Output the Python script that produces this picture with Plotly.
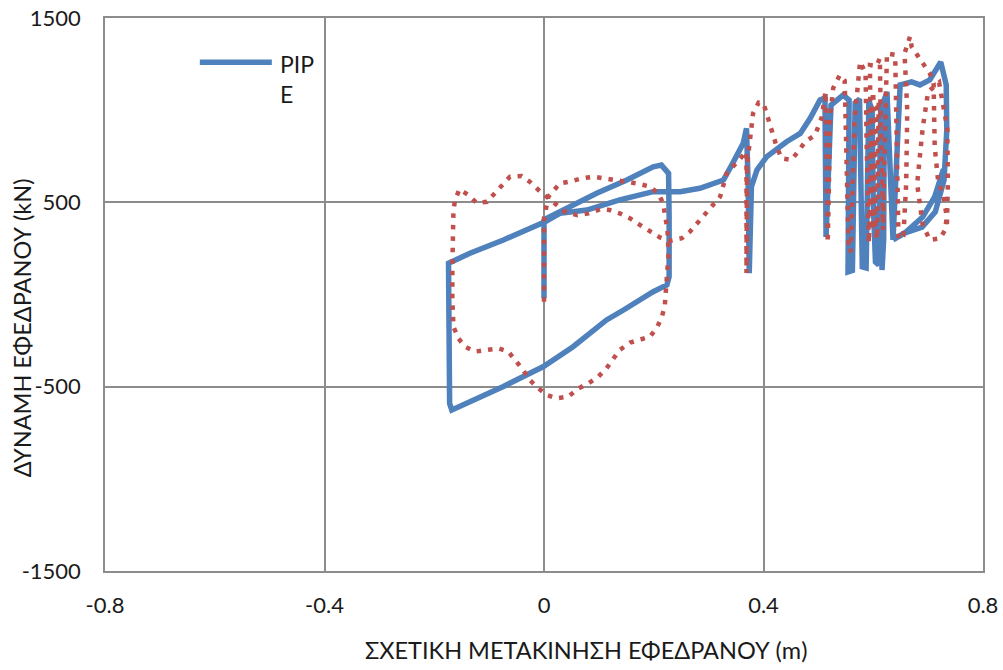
import plotly.graph_objects as go

# ---- data (relative displacement m, bearing force kN) ----
pipe_x = [0.000, 0.000, 0.005, 0.047, 0.096, 0.151, 0.199, 0.214, 0.227, 0.228, 0.228, 0.224,
          0.199, 0.145, 0.114, 0.053, -0.001, -0.074, -0.153, -0.168, -0.172, -0.174, -0.174,
          -0.135, -0.074, 0.002, 0.029, 0.078, 0.138, 0.199, 0.248, 0.284, 0.327, 0.344, 0.363,
          0.369, 0.372, 0.374, 0.376, 0.378, 0.388, 0.406, 0.442, 0.467, 0.485, 0.503, 0.512,
          0.514, 0.523, 0.545, 0.556, 0.554, 0.562, 0.565, 0.567, 0.575, 0.578, 0.580, 0.587,
          0.590, 0.592, 0.598, 0.600, 0.604, 0.610, 0.612, 0.614, 0.616, 0.619, 0.620, 0.625,
          0.636, 0.649, 0.670, 0.685, 0.703, 0.723, 0.733, 0.734, 0.729, 0.713, 0.689, 0.658,
          0.636, 0.660, 0.690, 0.712, 0.728]
pipe_y = [-20, 400, 413, 476, 549, 621, 693, 702, 657, 422, 97, 52,
          15, -84, -138, -283, -391, -499, -600, -627, -591, -120, 169,
          224, 296, 395, 440, 458, 513, 558, 558, 576, 621, 713, 820,
          902, 600, 115, 400, 585, 675, 748, 829, 874, 956, 1055, 1066,
          312, 1028, 1082, 1055, 122, 130, 700, 1040, 1060, 600, 150, 144,
          600, 1050, 1001, 500, 176, 160, 700, 1050, 133, 300, 1055, 1099,
          296, 1137, 1153, 1137, 1164, 1261, 1137, 892, 621, 448, 366, 334,
          296, 340, 420, 531, 680]

ref_x = [0.000, 0.000, 0.008, 0.029, 0.047, 0.069, 0.090, 0.111, 0.132, 0.169, 0.193, 0.208,
         0.217, 0.222, 0.225, 0.227, 0.224, 0.220, 0.214, 0.205, 0.193, 0.175, 0.157, 0.138,
         0.126, 0.114, 0.099, 0.081, 0.063, 0.044, 0.023, 0.005, -0.010, -0.026, -0.038, -0.050,
         -0.065, -0.083, -0.104, -0.126, -0.144, -0.156, -0.165, -0.167, -0.167, -0.167, -0.165,
         -0.162, -0.154, -0.138, -0.123, -0.104, -0.089, -0.077, -0.062, -0.041, -0.026, -0.010,
         0.005, 0.020, 0.038, 0.060, 0.081, 0.102, 0.120, 0.138, 0.157, 0.175, 0.193, 0.211,
         0.230, 0.251, 0.266, 0.281, 0.296, 0.321, 0.333, 0.357, 0.369, 0.369, 0.370, 0.381,
         0.391, 0.400, 0.412, 0.424, 0.433, 0.451, 0.463, 0.476,
         0.494, 0.506, 0.513, 0.515, 0.516, 0.517, 0.519, 0.521, 0.527, 0.539, 0.548, 0.551,
         0.553, 0.555, 0.559, 0.562, 0.566, 0.576, 0.586, 0.588, 0.590, 0.592, 0.595, 0.597,
         0.600, 0.602, 0.604, 0.607, 0.609, 0.610, 0.606, 0.603, 0.600, 0.596, 0.594, 0.594,
         0.606, 0.612, 0.614, 0.616, 0.618, 0.620, 0.622, 0.625, 0.640, 0.642, 0.644, 0.646,
         0.655, 0.660, 0.662, 0.657, 0.667, 0.670, 0.680, 0.694, 0.703, 0.710, 0.710, 0.712,
         0.718, 0.728, 0.734, 0.731, 0.722, 0.703, 0.690, 0.680, 0.690, 0.700, 0.720, 0.735,
         0.736, 0.734]
ref_y = [-39, 413, 531, 603, 612, 630, 639, 630, 621, 603, 585, 549,
         495, 422, 350, 223, 61, -66, -129, -183, -229, -247, -261, -301,
         -355, -400, -446, -482, -509, -554, -563, -545, -509, -464, -410, -365,
         -310, -292, -301, -310, -283, -238, -175, -30, 151, 332, 458,
         513, 571, 540, 498, 503, 549, 594, 639, 643, 612, 567,
         531, 495, 449, 431, 440, 462, 458, 440, 413, 377, 341, 310,
         292, 305, 341, 395, 440, 531, 657, 730, 775, 117, 700, 983,
         1041, 1037, 910, 802, 739, 730, 775, 829,
         865, 960, 1100, 750, 400, 280, 550, 950, 1120, 1191, 1160, 850,
         500, 250, 230, 550, 950, 1263, 1200, 800, 400, 280, 600, 1000,
         1100, 700, 350, 300, 700, 1050, 1000, 600, 350, 500, 900, 1245,
         1240, 1281, 900, 500, 350, 700, 1100, 1308, 1300, 900, 500, 300,
         320, 600, 1000, 1308, 1399, 1344, 1300, 1236, 1200, 1146, 983, 802,
         621, 531, 422, 350, 305, 296, 380, 600, 900, 1100, 1150, 900,
         600, 350]

x_ticks = [-0.8, -0.4, 0, 0.4, 0.8]
x_ticktext = ["-0.8", "-0.4", "0", "0.4", "0.8"]
y_ticks = [-1500, -500, 500, 1500]
y_ticktext = ["-1500", "-500", "500", "1500"]

BLUE = "#4F81BD"
RED = "#C0504D"
FONT = "Lato, 'Noto Sans', sans-serif"

fig = go.Figure()
fig.add_trace(go.Scatter(x=pipe_x, y=pipe_y, mode="lines", name="PIPE",
                         line=dict(color=BLUE, width=5.5), showlegend=False))
fig.add_trace(go.Scatter(x=ref_x, y=ref_y, mode="lines", name="REF",
                         line=dict(color=RED, width=4.5, dash="4.5px,7px"), showlegend=False))

axis_common = dict(showgrid=True, gridcolor="#8c8c8c", gridwidth=1.5, zeroline=False,
                   showline=True, linecolor="#8c8c8c", linewidth=1.5, mirror=True,
                   automargin=False, ticks="")
fig.update_xaxes(range=[-0.8, 0.8], tickvals=x_ticks, ticktext=x_ticktext,
                 ticklabelstandoff=14, tickfont=dict(family=FONT, size=22, color="#1a1a1a"),
                 **axis_common)
fig.update_yaxes(range=[-1500, 1500], tickvals=y_ticks, ticktext=y_ticktext,
                 ticklabelstandoff=18, tickfont=dict(family=FONT, size=22, color="#1a1a1a"),
                 **axis_common)

fig.update_layout(
    width=1003, height=670,
    margin=dict(l=105, r=20, t=18, b=99),
    plot_bgcolor="white", paper_bgcolor="white",
    font=dict(family=FONT, color="#1a1a1a"),
    shapes=[dict(type="line", xref="paper", yref="paper",
                 x0=0.108, x1=0.190, y0=0.920, y1=0.920,
                 line=dict(color=BLUE, width=5.5))],
    annotations=[
        dict(text="PIP<br>E", xref="paper", yref="paper", x=0.197, y=0.889,
             xanchor="left", yanchor="middle", showarrow=False, align="left",
             font=dict(family=FONT, size=23, color="#1a1a1a")),
        dict(text="ΣΧΕΤΙΚΗ ΜΕΤΑΚΙΝΗΣΗ ΕΦΕΔΡΑΝΟΥ (m)", xref="paper", yref="paper",
             x=0.548, y=-0.143, xanchor="center", yanchor="middle", showarrow=False,
             font=dict(family=FONT, size=23.5, color="#1a1a1a")),
        dict(text="ΔΥΝΑΜΗ ΕΦΕΔΡΑΝΟΥ (kN)", xref="paper", yref="paper",
             x=-0.095, y=0.44, xanchor="center", yanchor="middle", showarrow=False,
             textangle=-90, font=dict(family=FONT, size=23.5, color="#1a1a1a")),
    ],
)

fig.write_html("out.html")
